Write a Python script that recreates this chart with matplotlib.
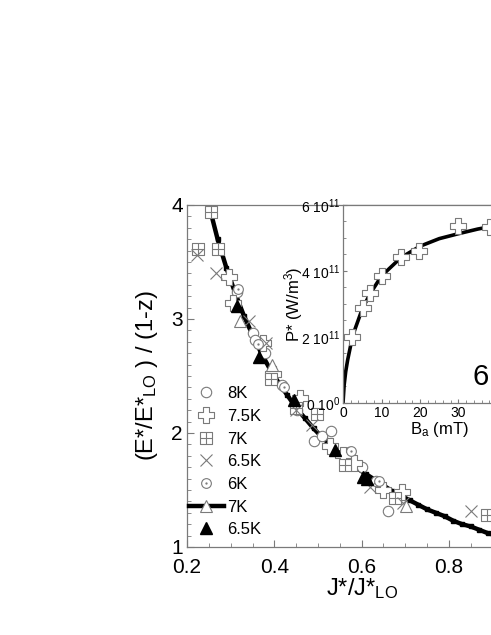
import numpy as np
import matplotlib
matplotlib.use("Agg")
import matplotlib.pyplot as plt
from matplotlib.path import Path
from matplotlib.lines import Line2D
from matplotlib.ticker import MultipleLocator, FixedLocator

plt.rcParams['font.family'] = ['Liberation Sans', 'DejaVu Sans']
plt.rcParams['mathtext.default'] = 'regular'

# main curve (scaling curve, 7K)
curve_x = [0.25, 0.27, 0.29, 0.31, 0.33, 0.35, 0.37, 0.39, 0.41, 0.43, 0.45, 0.47,
           0.49, 0.51, 0.53, 0.55, 0.57, 0.59, 0.61, 0.63, 0.65, 0.67, 0.69, 0.71,
           0.73, 0.75, 0.77, 0.79, 0.81, 0.83, 0.85, 0.87, 0.89, 0.91, 0.93, 0.95,
           0.97, 0.99]
curve_y = [4.00, 3.70, 3.45, 3.23, 3.03, 2.86, 2.70, 2.56, 2.44, 2.33, 2.22, 2.13,
           2.04, 1.96, 1.89, 1.82, 1.75, 1.69, 1.64, 1.59, 1.54, 1.49, 1.45, 1.41,
           1.37, 1.33, 1.30, 1.27, 1.23, 1.20, 1.18, 1.15, 1.12, 1.10, 1.08, 1.05,
           1.03, 1.01]

x_8K = [0.315, 0.352, 0.356, 0.379, 0.417, 0.452, 0.492, 0.509, 0.530, 0.570, 0.601, 0.634, 0.660]
y_8K = [3.24, 2.88, 2.82, 2.70, 2.42, 2.20, 1.93, 1.97, 2.02, 1.83, 1.70, 1.58, 1.32]

x_75K = [0.295, 0.305, 0.375, 0.398, 0.459, 0.528, 0.557, 0.583, 0.650, 0.692]
y_75K = [3.37, 3.14, 2.79, 2.52, 2.31, 1.89, 1.81, 1.74, 1.50, 1.48]

x_7K = [0.255, 0.226, 0.272, 0.392, 0.449, 0.497, 0.562, 0.677, 0.888]
y_7K = [3.94, 3.61, 3.61, 2.47, 2.22, 2.17, 1.72, 1.43, 1.28]

x_65K = [0.222, 0.266, 0.341, 0.381, 0.449, 0.487, 0.620, 0.695, 0.851]
y_65K = [3.56, 3.40, 2.98, 2.79, 2.20, 2.07, 1.53, 1.39, 1.32]

x_6K = [0.317, 0.363, 0.423, 0.575, 0.640]
y_6K = [3.26, 2.78, 2.40, 1.84, 1.58]

x_7Kline = [0.322, 0.394, 0.702]
y_7Kline = [2.98, 2.60, 1.36]

x_65Kfill = [0.315, 0.364, 0.444, 0.540, 0.604, 0.612]
y_65Kfill = [3.11, 2.67, 2.29, 1.85, 1.61, 1.60]

# inset: P* vs Ba
inset_B = [2.3, 5.3, 7.0, 10.2, 15.0, 19.8, 30.0, 38.2]
inset_P = [2.00e11, 2.87e11, 3.34e11, 3.85e11, 4.43e11, 4.60e11, 5.37e11, 5.33e11]
fit_B = [0, 0.3, 0.7, 1.2, 2, 3, 5, 7, 10, 15, 20, 25, 30, 35, 40, 45, 50]
fit_P = [0, 0.55e11, 0.95e11, 1.3e11, 1.75e11, 2.2e11, 2.85e11, 3.3e11, 3.85e11,
         4.4e11, 4.75e11, 4.98e11, 5.13e11, 5.27e11, 5.38e11, 5.47e11, 5.55e11]

gray = '#7a7a7a'

# custom symbols
t = 0.33
plus_outline = Path([(-t, 1), (t, 1), (t, t), (1, t), (1, -t), (t, -t), (t, -1),
                     (-t, -1), (-t, -t), (-1, -t), (-1, t), (-t, t), (-t, 1)], closed=True)
box_plus = Path([(-1, -1), (1, -1), (1, 1), (-1, 1), (-1, -1),
                 (0, -1), (0, 1), (-1, 0), (1, 0)],
                [Path.MOVETO, Path.LINETO, Path.LINETO, Path.LINETO, Path.CLOSEPOLY,
                 Path.MOVETO, Path.LINETO, Path.MOVETO, Path.LINETO])
c = Path.unit_circle()
dot_circle = Path(np.concatenate([c.vertices, c.vertices * 0.12]),
                  np.concatenate([c.codes, c.codes]))

fig = plt.figure(figsize=(4.91, 6.35), dpi=100)
ax = fig.add_axes([0.381, 0.1386, 0.711, 0.5386])

ax.plot(curve_x, curve_y, color='black', lw=3.2, zorder=2)
ax.plot(curve_x, curve_y, ls='none', marker='s', ms=3, color='black', zorder=2)

mk = dict(ls='none', mec=gray, mew=0.8, mfc='white', zorder=3)
ax.plot(x_8K, y_8K, marker='o', ms=7.5, **mk)
ax.plot(x_75K, y_75K, marker=plus_outline, ms=11, **mk)
ax.plot(x_7K, y_7K, marker=box_plus, ms=8, **mk)
ax.plot(x_65K, y_65K, marker='x', ms=8, ls='none', color=gray, mew=0.8, zorder=3)
ax.plot(x_6K, y_6K, marker=dot_circle, ms=7, **mk)
ax.plot(x_7Kline, y_7Kline, marker='^', ms=8, **mk)
ax.plot(x_65Kfill, y_65Kfill, marker='^', ms=8, ls='none', color='black', zorder=4)

handles = [
    Line2D([], [], ls='none', marker='o', ms=7.5, mec=gray, mfc='white', mew=0.8),
    Line2D([], [], ls='none', marker=plus_outline, ms=11, mec=gray, mfc='white', mew=0.8),
    Line2D([], [], ls='none', marker=box_plus, ms=8, mec=gray, mfc='white', mew=0.8),
    Line2D([], [], ls='none', marker='x', ms=8, color=gray, mew=0.8),
    Line2D([], [], ls='none', marker=dot_circle, ms=7, mec=gray, mfc='white', mew=0.8),
    Line2D([], [], color='black', lw=3.2, marker='^', ms=8, mec=gray, mfc='white', mew=0.8),
    Line2D([], [], ls='none', marker='^', ms=8, color='black'),
]
labels = ['8K', '7.5K', '7K', '6.5K', '6K', '7K', '6.5K']
ax.legend(handles, labels, loc='upper left', bbox_to_anchor=(0.0, 0.475),
          frameon=False, fontsize=12, handlelength=2.1, handletextpad=0.2,
          labelspacing=0.46, borderpad=0.0, borderaxespad=0.1)

ax.set_xlim(0.2, 1.0)
ax.set_ylim(1, 4)
ax.xaxis.set_major_locator(FixedLocator([0.2, 0.4, 0.6, 0.8, 1.0]))
ax.set_xticklabels(['0.2', '0.4', '0.6', '0.8', ''])
ax.xaxis.set_minor_locator(MultipleLocator(0.05))
ax.yaxis.set_major_locator(MultipleLocator(1))
ax.yaxis.set_minor_locator(MultipleLocator(0.1))
ax.tick_params(which='both', direction='in', color=gray, labelsize=15, pad=3)
ax.tick_params(which='major', length=5)
ax.tick_params(which='minor', length=3)
ax.tick_params(axis='x', pad=8)
for s in ax.spines.values():
    s.set_color(gray)
    s.set_linewidth(0.9)
ax.set_xlabel('J*/J*$_{LO}$', fontsize=17, labelpad=-1)
ax.set_ylabel('(E*/E*$_{LO}$ ) / (1-z)', fontsize=17, labelpad=8)

# inset
ins = fig.add_axes([0.6986, 0.3654, 0.392, 0.3118])
ins.plot(fit_B, fit_P, color='black', lw=2.6, zorder=2)
ins.plot(inset_B, inset_P, ls='none', marker=plus_outline, ms=12, mec=gray, mfc='white',
         mew=0.8, zorder=3)
ins.set_xlim(0, 50)
ins.set_ylim(0, 6e11)
ins.xaxis.set_major_locator(FixedLocator([0, 10, 20, 30, 40, 50]))
ins.set_xticklabels(['0', '10', '20', '30', '', ''])
ins.xaxis.set_minor_locator(MultipleLocator(2))
ins.yaxis.set_major_locator(FixedLocator([0, 2e11, 4e11, 6e11]))
ins.yaxis.set_minor_locator(MultipleLocator(0.5e11))
ins.set_yticklabels(['0 10$^{0}$', '2 10$^{11}$', '4 10$^{11}$', '6 10$^{11}$'])
ins.tick_params(which='both', direction='in', color=gray, labelsize=10, pad=2)
ins.tick_params(which='major', length=3)
ins.tick_params(which='minor', length=2)
for s in ins.spines.values():
    s.set_color(gray)
    s.set_linewidth(0.9)
ins.set_xlabel('B$_a$ (mT)', fontsize=12, labelpad=0)
ins.set_ylabel('P* (W/m$^3$)', fontsize=12, labelpad=-3)
ins.text(0.675, 0.06, '6', transform=ins.transAxes, fontsize=21, ha='left', va='bottom')

fig.savefig('out.png', dpi=100)
